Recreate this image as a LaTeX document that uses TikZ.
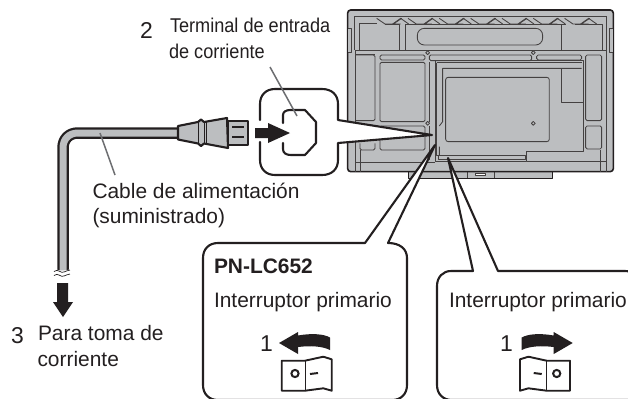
\documentclass[tikz,border=0pt]{standalone}
\usepackage{fontspec}
\setmainfont{Liberation Sans}
\definecolor{ink}{HTML}{231F20}
\definecolor{panel}{HTML}{BCBEC0}
\definecolor{leader}{HTML}{6D6E71}
\tikzset{
  label/.style={anchor=base west,inner sep=0pt,outer sep=0pt,text=ink,font=\fontsize{21}{25}\selectfont},
  smalllabel/.style={label,font=\fontsize{20}{24}\selectfont\addfontfeature{FakeStretch=0.91}},
  numeral/.style={label,font=\fontsize{23}{27}\selectfont},
  outline/.style={draw=ink,line width=2.1bp,line join=round,line cap=round},
  thin part/.style={draw=ink!85,line width=.85bp,line join=round},
  leaderline/.style={draw=leader,line width=1.5bp},
  solidarrow/.style={fill=ink,draw=none},
}
\begin{document}
\begin{tikzpicture}[x=1bp,y=-1bp]
\clip (0,0) rectangle (628,398);
\fill[white] (0,0) rectangle (628,398);

% ---------- monitor, drawn in 3x zoom units
\begin{scope}[shift={(330,0)},x=.3333bp,y=-.3333bp]
  \draw[outline,fill=panel,line width=1.2bp] (235,515) rectangle (668,535);
  \draw[thin part] (412,515)--(412,535) (492,515)--(492,535);
  \draw[thin part,fill=white] (435,521) rectangle (465,527);
  \draw[outline,fill=panel,line width=1.6bp,rounded corners=3bp] (53,30) rectangle (850,515);
  \draw[thin part,fill=panel] (53,85) -- (63,85) -- (63,158) -- (53,158);
  \draw[thin part,fill=panel] (850,85) -- (838,85) -- (838,158) -- (850,158);
  \draw[thin part] (73,48)--(830,48) (73,48)--(73,150) (830,48)--(830,150);
  \draw[thin part] (88,150)--(88,70)--(140,70) (208,150)--(208,72)--(165,72);
  \draw[thin part] (225,150)--(225,72)--(708,72) (695,150)--(695,72) (818,150)--(818,72)--(735,72);
  \foreach \k in {0,...,6}{
    \draw[thin part] ({140+\k*94},55)--({165+\k*94},72)--({190+\k*94},72)--({215+\k*94},55)
      ({190+\k*94},72)--({212+\k*94},72);
    \draw[thin part] ({188+\k*94},72)--({212+\k*94},55)--({236+\k*94},72);
  }
  \draw[thin part,rounded corners=7bp] (262,85) rectangle (638,135);
  \draw[thin part] (75,150)--(830,150) (75,163)--(135,163);
  \draw[thin part,rounded corners=1.5bp] (75,165)--(135,165)--(135,362)--(75,362);
  \draw[thin part,rounded corners=1.5bp] (150,165) rectangle (285,180);
  \draw[thin part,rounded corners=1.5bp] (298,165) rectangle (605,182);
  \draw[thin part,rounded corners=1.5bp] (620,165) rectangle (755,180);
  \draw[thin part,rounded corners=1.5bp] (150,187) rectangle (285,365);
  \draw[thin part,rounded corners=1.5bp] (150,378) rectangle (285,450);
  \draw[thin part,rounded corners=1.5bp] (90,430)--(90,450)--(135,450)--(135,430);
  \draw[thin part] (298,187)--(298,365) (298,378)--(298,480);
  \draw[thin part] (75,150)--(75,515) (90,450)--(90,515);
  \draw[thin part] (75,487)--(315,487);
  \draw[thin part] (590,485)--(830,485) (810,450)--(810,515) (830,150)--(830,515);
  \draw[thin part] (315,182)--(760,182)--(760,455)--(590,455)--(590,483)--(315,483)--cycle;
  \draw[thin part] (320,188)--(755,188) (320,188)--(320,465)--(585,465)--(585,478)--(325,478)--(325,465);
  \draw[thin part] (755,205)--(338,205)--(338,365)--(328,378) (328,440)--(328,465);
  \draw[thin part,rounded corners=2.5bp] (347,232) rectangle (658,425);
  \draw[thin part] (695,208)--(695,307)--(758,307);
  \draw[thin part,rounded corners=1.5bp] (767,165)--(815,165)--(815,362)--(767,362)--cycle;
  \draw[thin part,rounded corners=1.5bp] (767,378)--(815,378)--(815,447)--(767,447)--cycle;
  \foreach \cx/\cy in {293/158,610/158,293/370,610/370}
    \draw[thin part,fill=panel] (\cx,\cy) circle (1.9bp);
\end{scope}

% ---------- named free ends of the callouts and leaders
\coordinate (tipA) at (432,135);
\coordinate (tipB) at (435,145);
\coordinate (tipC) at (448,158);
\coordinate (termEnd) at (297,116);
\coordinate (termStart) at (270,67);
\coordinate (cableEnd) at (100,133);
\coordinate (cableStart) at (115,175);

% ---------- callout around the inlet
\path[outline,fill=white] (260,120) -- (260,104)
  .. controls (260,95) and (266,89) .. (275,89) -- (322,89)
  .. controls (332,89) and (338,95) .. (338,104) -- (338,120) -- (tipA) -- (338,143) -- (338,160)
  .. controls (338,169) and (332,175) .. (322,175) -- (275,175)
  .. controls (266,175) and (260,169) .. (260,160) -- (260,142);
\path[outline] (283,123) -- (283,115) .. controls (283,112) and (286,110) .. (290,110) -- (305,110)
  -- (316,122) -- (316,143) -- (305,155) -- (291,155) .. controls (286,155) and (283,153) .. (283,149) -- (283,143);
\draw[leaderline] (termStart) -- (termEnd);
\fill[solidarrow] (255,128) -- (268,128) -- (268,123) -- (290,133) -- (268,143) -- (268,138) -- (255,138) -- cycle;

% ---------- cable and plug
\path[outline,line cap=butt,line width=11.5bp] (63,270) -- (63,148) .. controls (63,139) and (69,133) .. (78,133) -- (180,133);
\path[draw=panel,line width=7bp] (63,270) -- (63,148) .. controls (63,139) and (69,133) .. (78,133) -- (180,133);
\draw[leaderline] (cableStart) -- (cableEnd);
\path[outline,fill=panel] (228,121) rectangle (248,145);
\draw[ink,line width=1.3bp] (232,127) -- (244,127) (232,137) -- (244,137);
\path[outline,fill=panel] (178,126) -- (198,122) -- (201,119.5) -- (204,122) -- (227,118)
  -- (228,148) -- (204,143.5) -- (201,146) -- (198,143.5) -- (178,139.5) -- cycle;
\draw[ink,line width=1bp] (198,122) -- (198,143.5) (204,122) -- (204,143.5);
\draw[ink,line width=1bp] (206,122) -- (206,143.5);

% ---------- cable break
\fill[white] (52,270.5) .. controls (57,267) and (60,273) .. (63,271) .. controls (66,269) and (69,271) .. (72,269)
  -- (72,278) -- (52,278) -- cycle;
\draw[ink,line width=.7bp] (54,271.5) .. controls (58,268) and (61,274) .. (64,272) .. controls (66,270.5) and (68,271) .. (70,270);
\draw[ink,line width=.7bp] (54,275.5) .. controls (58,272) and (61,278) .. (64,276) .. controls (66,274.5) and (68,275) .. (70,274);

\fill[solidarrow] (57,283) -- (68,283) -- (68,302) -- (73,302) -- (63,317) -- (53,302) -- (57,302) -- cycle;

% ---------- callout PN-LC652
\path[outline,fill=white] (tipB) -- (365,243) -- (218,243)
  .. controls (209,243) and (203,249) .. (203,258) -- (203,385)
  .. controls (203,394) and (209,400) .. (218,400) -- (392,400)
  .. controls (401,400) and (407,394) .. (407,385) -- (407,258)
  .. controls (407,249) and (400,243) .. (388,243) -- cycle;

% ---------- second callout
\path[outline,fill=white] (tipC) -- (473,271) -- (451,271)
  .. controls (443,271) and (437,277) .. (437,286) -- (437,385)
  .. controls (437,394) and (443,400) .. (452,400) -- (640,400) -- (640,286)
  .. controls (640,277) and (634,271) .. (625,271)
  -- (498,271) -- cycle;

% ---------- switches
\newcommand{\switchdrawing}{%
  \path[outline,line width=1.9bp] (281.7,360.7) -- (305,360.7) -- (323.3,356.7) -- (331.7,359.3) -- (331.7,390.7)
    -- (323.3,388.3) -- (305,390.7) -- (281.7,390.7) -- cycle;
  \draw[ink,line width=.9bp] (305,360.7) -- (305,390.7);
  \draw[ink,line width=2bp] (295,373.5) circle (3.6bp);
  \draw[ink,line width=2bp] (310,374) -- (318,373);
  \fill[solidarrow] (279,343) -- (298,332) -- (298,335.5)
    .. controls (312,333) and (324,334) .. (330,337.5) -- (330,350)
    .. controls (322,346) and (310,345.5) .. (298,347) -- (298,354) -- cycle;
}
\switchdrawing
\begin{scope}[xshift=851.7bp,xscale=-1]
  \switchdrawing
\end{scope}

% ---------- texts
\node[numeral] (n2) at (140,38) {2};
\node[smalllabel] (term1) at (170,32.7) {Terminal de entrada};
\node[smalllabel] (term2) at (169,58) {de corriente};
\node[label] (cab1) at (92.5,198) {Cable de alimentación};
\node[label] (cab2) at (92.5,223) {(suministrado)};
\node[numeral] (n3) at (11,343) {3};
\node[label] (toma1) at (38,340) {Para toma de};
\node[label] (toma2) at (37.5,366) {corriente};
\node[label,font=\fontsize{21}{25}\selectfont\bfseries] (model) at (214,273) {PN-LC652};
\node[label] (int1) at (214,307) {Interruptor primario};
\node[label] (int2) at (449,307) {Interruptor primario};
\node[numeral] (one1) at (260,351) {1};
\node[numeral] (one2) at (500,351) {1};
\end{tikzpicture}
\end{document}
